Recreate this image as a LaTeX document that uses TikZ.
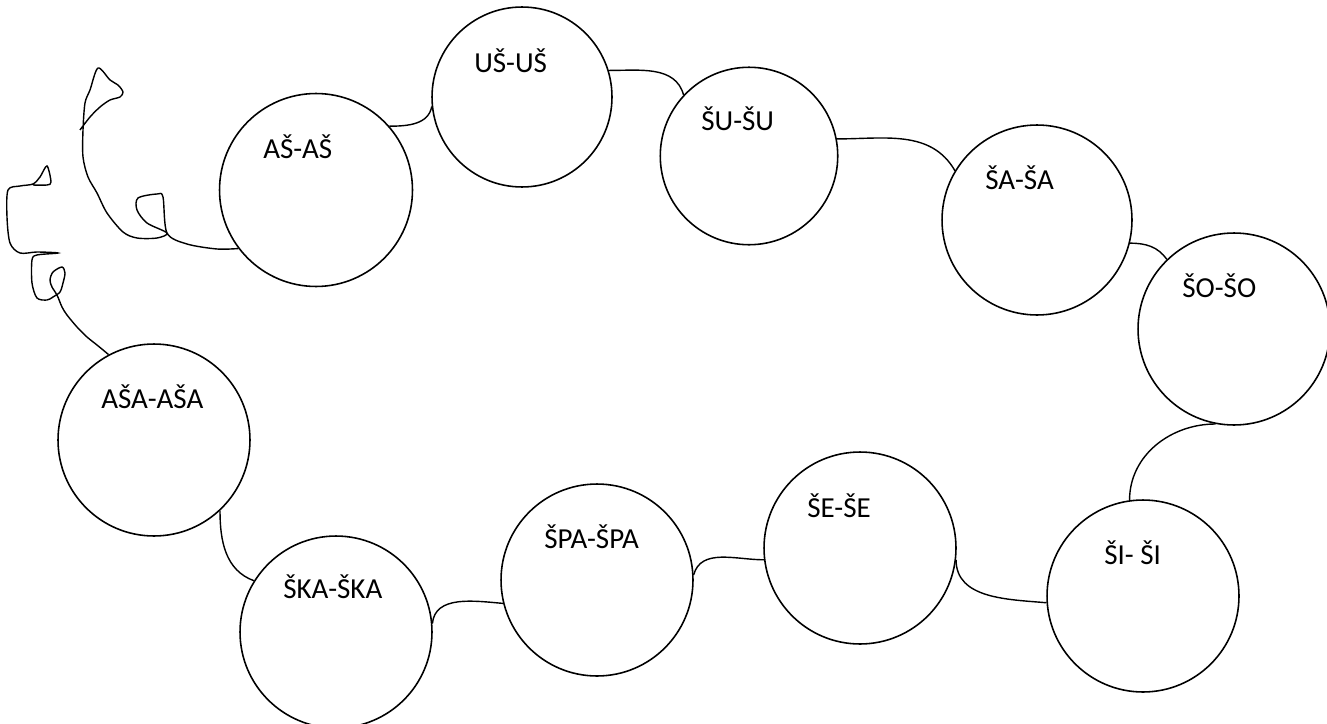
\documentclass[tikz,border=0pt]{standalone}
\usepackage{fontspec}
\setmainfont{Carlito}
\usepackage{tikz}
\usetikzlibrary{arrows.meta}

\begin{document}
\begin{tikzpicture}[x=0.02cm,y=0.02cm]
        \tikzset{
          ball/.style={draw,circle,line width=0.9pt,minimum size=3.84cm,inner sep=0pt},
          syl/.style={anchor=base west,inner sep=0pt,font=\fontsize{16.5}{19}\selectfont},
          link/.style={line width=0.8pt},
          squiggle/.style={line width=0.8pt}
        }
        \useasboundingbox (0,0) rectangle (1327,-723);

        % circles, top row
        \node[ball,minimum size=3.86cm] (ash) at (316,-190) {};
        \node[ball,minimum size=3.6cm] (ush) at (522,-97) {};
        \node[ball,minimum size=3.55cm] (shu) at (749,-156) {};
        \node[ball,minimum size=3.8cm] (sha) at (1037,-220) {};
        \node[ball] (sho) at (1234,-329) {};

        % circles, bottom row
        \node[ball] (shi) at (1143,-596) {};
        \node[ball] (she) at (860,-548) {};
        \node[ball] (shpa) at (597,-580) {};
        \node[ball] (shka) at (336,-632) {};
        \node[ball] (asha) at (154,-440) {};

        % labels
        \node[syl] (ash-t) at (263,-158) {AŠ-AŠ};
        \node[syl] (ush-t) at (474,-72) {UŠ-UŠ};
        \node[syl] (shu-t) at (701,-131) {ŠU-ŠU};
        \node[syl] (sha-t) at (985,-189) {ŠA-ŠA};
        \node[syl] (sho-t) at (1182,-297) {ŠO-ŠO};
        \node[syl] (shi-t) at (1104,-564) {ŠI- ŠI};
        \node[syl] (she-t) at (807,-517) {ŠE-ŠE};
        \node[syl] (shpa-t) at (544,-548) {ŠPA-ŠPA};
        \node[syl] (shka-t) at (283,-598) {ŠKA-ŠKA};
        \node[syl] (asha-t) at (101,-408) {AŠA-AŠA};

        % links along the chain
        \draw[link] (ash.41) to[out=0,in=-100] (ush.186);
        \draw[link] (ush.17) to[out=0,in=105] (shu.137);
        \draw[link] (shu.11) to[out=0,in=120] (sha.149);
        \draw[link] (sha.-14) to[out=0,in=125] (sho.134);
        \draw[link] (sho.259) to[out=180,in=90] (shi.98);
        \draw[link] (she.-7) to[out=-90,in=175] (shi.184);
        \draw[link] (shpa.3) to[out=75,in=180] (she.187);
        \draw[link] (shka.5) to[out=85,in=175] (shpa.194);
        \draw[link] (asha.-47) to[out=-90,in=160] (shka.148);

        % scribble out of AŠ-AŠ
        \draw[squiggle] plot[smooth,tension=0.5] coordinates {(ash.217) (217,-249) (187,-244) (167,-233)
          (163,-197) (157,-194) (138,-198) (137,-210) (147,-223) (167,-233) (157,-238) (137,-238)
          (123,-232) (107,-213) (97,-193) (88,-177) (83,-157) (83,-130) (85,-103) (90,-90) (98,-68)
          (110,-80) (118,-85) (123,-92) (120,-97) (110,-100) (100,-107) (90,-117) (80,-130)};

        % scribble out of AŠA-AŠA
        \draw[squiggle] plot[smooth,tension=0.5] coordinates {(asha.118) (97,-345) (87,-337) (77,-327)
          (67,-315) (62,-307) (57,-295) (52,-287) (50,-280) (53,-272) (62,-267) (65,-273) (63,-283)
          (60,-292) (53,-297) (47,-300) (37,-298) (32,-283) (32,-260) (37,-255) (58,-253) (37,-252)
          (20,-253) (10,-243) (7,-217) (8,-190) (20,-186) (33,-184) (40,-177) (47,-166) (51,-182)
          (47,-185) (33,-185)};

\end{tikzpicture}
\end{document}
